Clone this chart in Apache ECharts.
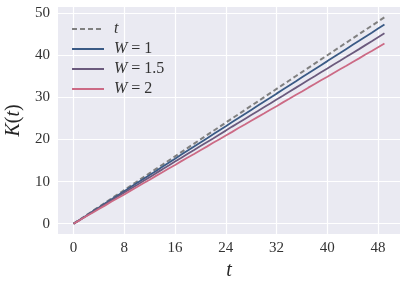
<!DOCTYPE html>
<html><head><meta charset="utf-8">
<script src="https://cdn.jsdelivr.net/npm/echarts@6/dist/echarts.min.js"></script>
<style>html,body{margin:0;padding:0;background:#fff}#c{width:407px;height:282px}</style>
</head><body><div id="c"></div>
<script>
const tValues = [0,1,2,3,4,5,6,7,8,9,10,11,12,13,14,15,16,17,18,19,20,21,22,23,24,25,26,27,28,29,30,31,32,33,34,35,36,37,38,39,40,41,42,43,44,45,46,47,48,49];
const kW1 = [0,0.95,1.9,2.92,3.85,4.83,5.8,6.74,7.72,8.7,9.65,10.6,11.58,12.52,13.5,14.47,15.43,16.4,17.35,18.33,19.3,20.25,21.22,22.2,23.15,24.12,25.08,26.05,27.02,27.98,28.95,29.9,30.88,31.85,32.8,33.77,34.75,35.7,36.67,37.64,38.6,39.57,40.53,41.5,42.47,43.42,44.4,45.36,46.33,47.3];
const kW15 = [0,0.9,1.85,2.75,3.7,4.6,5.55,6.45,7.38,8.3,9.2,10.15,11.05,12.0,12.9,13.82,14.75,15.65,16.6,17.5,18.42,19.35,20.25,21.2,22.1,23.05,23.95,24.88,25.8,26.72,27.65,28.55,29.5,30.4,31.33,32.25,33.18,34.1,35.0,35.95,36.85,37.8,38.7,39.62,40.55,41.45,42.4,43.3,44.25,45.2];
const kW2 = [0,0.85,1.78,2.6,3.5,4.35,5.25,6.1,6.95,7.85,8.7,9.6,10.45,11.35,12.2,13.1,13.95,14.85,15.7,16.55,17.45,18.3,19.2,20.05,20.95,21.8,22.7,23.55,24.45,25.3,26.15,27.05,27.9,28.8,29.65,30.55,31.4,32.3,33.15,34.05,34.9,35.8,36.65,37.5,38.4,39.25,40.15,41.0,41.9,42.8];
const xTicks = [0,8,16,24,32,40,48];
const yTicks = [0,10,20,30,40,50];
const seriesNames = ['t','W = 1','W = 1.5','W = 2'];

const font = 'Liberation Serif';
const pair = (ys) => tValues.map((t,i)=>[t, ys[i]]);
const chart = echarts.init(document.getElementById('c'), null, {renderer:'canvas'});
chart.setOption({
  animation:false,
  backgroundColor:'#ffffff',
  grid:{left:58,right:7,top:7,bottom:48,show:true,backgroundColor:'#eaeaf2',borderWidth:0,
    containLabel:false,outerBoundsMode:'none'},
  xAxis:{type:'value',min:-2.45,max:51.45,
    axisLine:{show:false},axisTick:{show:false,customValues:xTicks},
    axisLabel:{customValues:xTicks,color:'#333',fontFamily:font,fontSize:15,margin:7},
    splitLine:{show:true,lineStyle:{color:'#ffffff',width:1.2}},
    name:'t',nameLocation:'middle',nameGap:25,
    nameTextStyle:{fontFamily:font,fontStyle:'italic',fontSize:20,color:'#262626'}},
  yAxis:{type:'value',min:-2.45,max:51.45,
    axisLine:{show:false},axisTick:{show:false,customValues:yTicks},
    axisLabel:{customValues:yTicks,color:'#333',fontFamily:font,fontSize:15,margin:8},
    splitLine:{show:true,lineStyle:{color:'#ffffff',width:1.2}},
    name:'{i|K}({i|t})',nameLocation:'middle',nameGap:22,nameRotate:90,
    nameTextStyle:{fontFamily:font,fontSize:20,color:'#262626',
      rich:{i:{fontFamily:font,fontStyle:'italic',fontSize:20,color:'#262626'}}}},
  legend:{left:66,top:16,orient:'vertical',itemWidth:32,itemHeight:12,itemGap:4,
    data:seriesNames,itemStyle:{opacity:0},
    formatter:(n)=> n==='t' ? '{i|t}' : '{i|W} ' + n.slice(2),
    textStyle:{fontFamily:font,fontSize:16,color:'#333',padding:[0,0,0,5],
      rich:{i:{fontFamily:font,fontStyle:'italic',fontSize:16,color:'#333'}}}},
  series:[
    {name:'t',type:'line',symbol:'none',data:pair(tValues),z:1,
     lineStyle:{color:'#808080',width:2,type:[5,3]},itemStyle:{color:'#808080'}},
    {name:'W = 1',type:'line',symbol:'none',data:pair(kW1),z:2,
     lineStyle:{color:'#3a5a85',width:1.8},itemStyle:{color:'#3a5a85'}},
    {name:'W = 1.5',type:'line',symbol:'none',data:pair(kW15),z:3,
     lineStyle:{color:'#6b5a7d',width:1.8},itemStyle:{color:'#6b5a7d'}},
    {name:'W = 2',type:'line',symbol:'none',data:pair(kW2),z:4,
     lineStyle:{color:'#cc6a85',width:1.8},itemStyle:{color:'#cc6a85'}}
  ]
});
</script></body></html>
